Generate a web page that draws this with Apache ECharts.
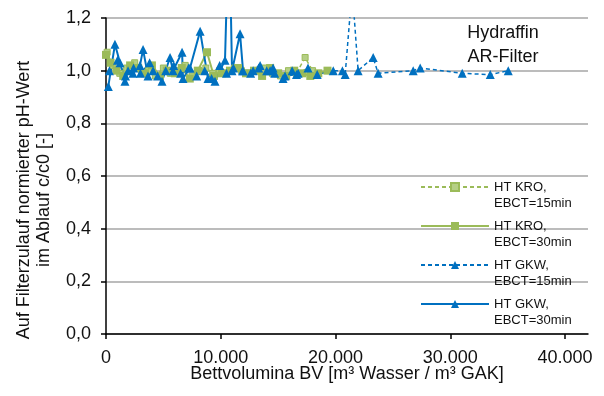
<!DOCTYPE html>
<html><head><meta charset="utf-8">
<script src="https://cdn.jsdelivr.net/npm/echarts@6/dist/echarts.min.js"></script>
<style>html,body{margin:0;padding:0;background:#fff}#c{width:604px;height:396px}</style>
</head><body><div id="c"></div>
<script>
// ---- data ----
const xTicks = [0, 10000, 20000, 30000, 40000];
const yTicks = [0, 0.2, 0.4, 0.6, 0.8, 1.0, 1.2];

const kro15Name = 'HT KRO,\nEBCT=15min';
const kro15BV  = [100, 600, 1200, 1800, 2500, 3100, 3700, 4300, 5000, 5600, 6200, 6900, 7500, 8100, 8700, 9300, 9900, 10500, 11200, 11800, 12500, 13100, 13800, 14500, 15200, 15900, 16600, 17350, 18000];
const kro15Val = [1.07, 1.02, 0.99, 1.01, 1.03, 0.99, 1.00, 0.98, 1.01, 0.99, 1.00, 1.02, 0.98, 1.00, 1.01, 0.99, 1.00, 0.99, 1.01, 1.00, 0.99, 1.00, 1.01, 0.99, 0.98, 1.00, 0.99, 1.05, 1.00];

const kro30Name = 'HT KRO,\nEBCT=30min';
const kro30BV  = [0, 400, 900, 1500, 2100, 2800, 3400, 4000, 4700, 5300, 6000, 6600, 7300, 8000, 8800, 9400, 10100, 10800, 11500, 12200, 12900, 13600, 14300, 15000, 15700, 16400, 17100, 17800, 18500, 19300];
const kro30Val = [1.06, 1.03, 1.00, 0.98, 1.02, 1.01, 0.99, 1.02, 0.98, 1.00, 0.99, 1.01, 0.97, 1.00, 1.07, 0.98, 0.99, 1.00, 1.01, 0.99, 1.00, 0.98, 1.01, 0.99, 0.98, 1.00, 0.99, 0.98, 0.99, 1.00];

const gkw15Name = 'HT GKW,\nEBCT=15min';
const gkw15BV  = [300, 1000, 1700, 2400, 3000, 3800, 4500, 5200, 5900, 6500, 7200, 7900, 8600, 9200, 9900, 10500, 11100, 11900, 12600, 13300, 14000, 14700, 15600, 16600, 17600, 18400, 19800, 20600, 20840, 21450, 21970, 23280, 23710, 26770, 27380, 31040, 33480, 35050];
const gkw15Val = [1.00, 1.04, 0.98, 1.01, 0.99, 1.03, 0.98, 1.00, 1.02, 0.99, 1.01, 0.98, 1.00, 0.97, 1.02, 0.99, 1.01, 1.00, 0.99, 1.01, 1.00, 0.99, 0.98, 0.985, 1.01, 0.985, 1.00, 1.00, 0.985, 1.31, 1.00, 1.05, 0.99, 1.00, 1.01, 0.99, 0.985, 1.00];

const gkw30Name = 'HT GKW,\nEBCT=30min';
const gkw30BV  = [200, 780, 1220, 1650, 1920, 2350, 2960, 3230, 3660, 4100, 4880, 5580, 5840, 6630, 6710, 7320, 8200, 8890, 9500, 10370, 10720, 10980, 11680, 11940, 12820, 13430, 14300, 14560, 15430, 16220, 16740];
const gkw30Val = [0.94, 1.10, 1.03, 0.96, 1.00, 0.99, 1.02, 1.08, 0.98, 1.00, 0.96, 1.05, 1.00, 1.07, 0.97, 1.01, 1.15, 0.97, 0.96, 1.04, 1.60, 1.00, 1.14, 1.00, 1.00, 1.02, 1.00, 1.01, 0.97, 1.00, 0.99];

const zip = (a, b) => a.map((v, i) => [v, b[i]]);
const FONT = 'Liberation Sans';
const GREEN = '#9bbb59';
const BLUE = '#0070c0';

const chart = echarts.init(document.getElementById('c'), null, {renderer: 'canvas'});
chart.setOption({
  animation: false,
  backgroundColor: '#fff',
  textStyle: {fontFamily: FONT},
  grid: {left: 106, right: 16, top: 18, bottom: 62},
  xAxis: {
    type: 'value', min: 0, max: 42000, interval: 10000,
    name: 'Bettvolumina BV [m³ Wasser / m³ GAK]',
    nameLocation: 'middle', nameGap: 31, nameMoveOverlap: false,
    nameTextStyle: {fontSize: 18, color: '#111', fontFamily: FONT},
    axisLine: {show: true, onZero: false, lineStyle: {color: '#000', width: 1.5}},
    axisTick: {show: true, inside: false, length: 5, lineStyle: {color: '#000', width: 1.5}, customValues: xTicks},
    axisLabel: {fontSize: 18, color: '#111', margin: 15, fontFamily: FONT, customValues: xTicks,
      formatter: v => v === 0 ? '0' : String(v).replace(/\B(?=(\d{3})+(?!\d))/g, '.')},
    splitLine: {show: false}
  },
  yAxis: {
    type: 'value', min: 0, max: 1.2, interval: 0.2,
    name: 'Auf Filterzulauf normierter pH-Wert\nim Ablauf c/c0 [-]',
    nameLocation: 'middle', nameRotate: 90, nameGap: 52,
    nameTextStyle: {fontSize: 18, lineHeight: 20, color: '#111', fontFamily: FONT, padding: [0, 48, 0, 0]},
    axisLine: {show: true, lineStyle: {color: '#000', width: 1.5}},
    axisTick: {show: true, inside: false, length: 5, lineStyle: {color: '#000', width: 1.5}},
    axisLabel: {fontSize: 18, color: '#111', margin: 15, fontFamily: FONT,
      formatter: v => v.toFixed(1).replace('.', ',')},
    splitLine: {show: true, lineStyle: {color: '#a6a6a6', width: 1.5}}
  },
  legend: {
    orient: 'vertical', left: 420, top: 163, padding: 0, itemGap: -9,
    itemWidth: 68, itemHeight: 10,
    formatter: name => '\n' + name,
    textStyle: {fontSize: 13, lineHeight: 16, color: '#111', fontFamily: FONT},
    data: [kro15Name, kro30Name, gkw15Name, gkw30Name]
  },
  graphic: [{
    type: 'text', x: 503, y: 21, silent: true,
    style: {text: 'Hydraffin\nAR-Filter', font: '18px "Liberation Sans"', fill: '#111',
      textAlign: 'center', textVerticalAlign: 'top', lineHeight: 24}
  }],
  series: [
    {name: kro15Name, type: 'line', data: zip(kro15BV, kro15Val), symbol: 'rect', symbolSize: 6,
     itemStyle: {color: '#b5cf85', borderColor: GREEN, borderWidth: 1},
     lineStyle: {color: GREEN, width: 1.5, type: [4, 3]}},
    {name: kro30Name, type: 'line', data: zip(kro30BV, kro30Val), symbol: 'rect', symbolSize: 8,
     itemStyle: {color: GREEN}, lineStyle: {color: GREEN, width: 2}},
    {name: gkw15Name, type: 'line', data: zip(gkw15BV, gkw15Val), symbol: 'triangle', symbolSize: 9,
     itemStyle: {color: BLUE}, lineStyle: {color: BLUE, width: 1.5, type: [4, 3]}},
    {name: gkw30Name, type: 'line', data: zip(gkw30BV, gkw30Val), symbol: 'triangle', symbolSize: 9,
     itemStyle: {color: BLUE}, lineStyle: {color: BLUE, width: 2}}
  ]
});
</script></body></html>
